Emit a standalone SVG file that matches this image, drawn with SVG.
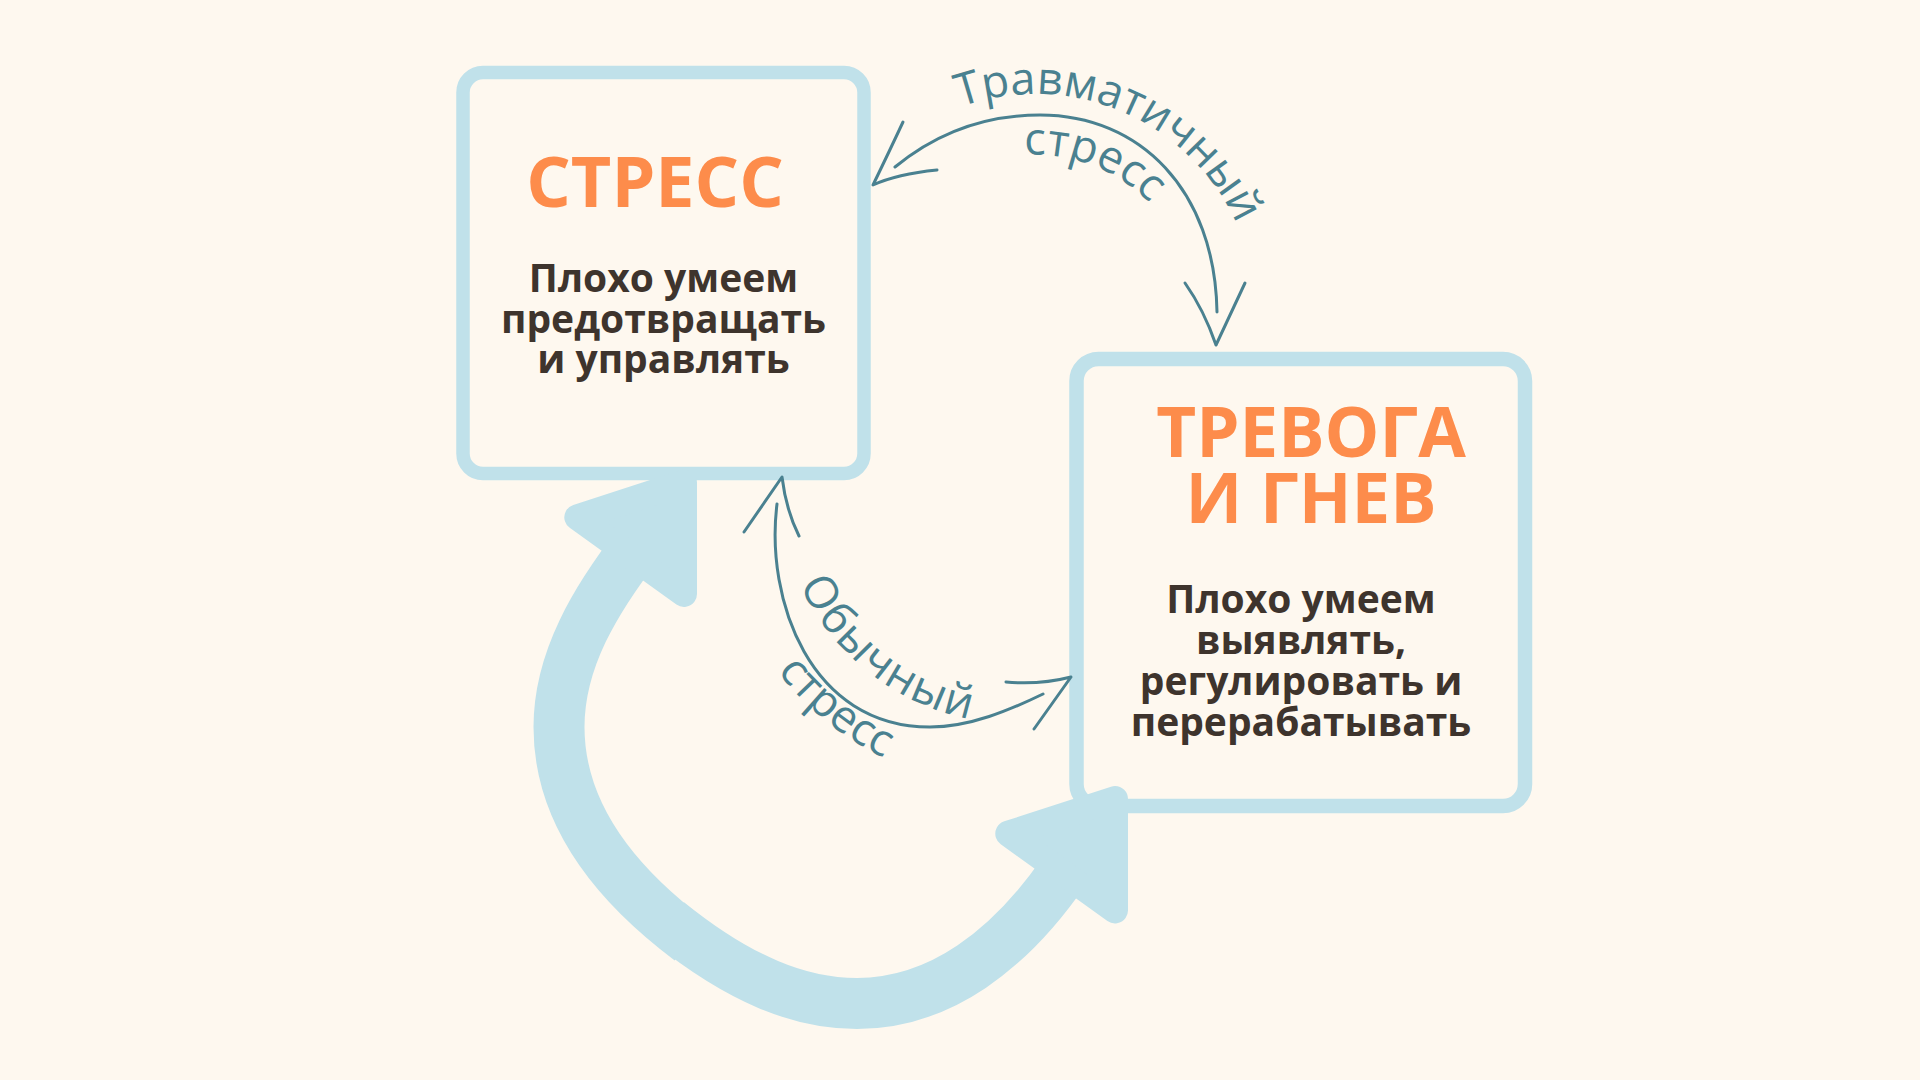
<svg xmlns="http://www.w3.org/2000/svg" width="1920" height="1080" viewBox="0 0 1920 1080">
<style>
.box{fill:#fef8ef;stroke:#c0e1ea;}
.title{font-family:"Open Sans","Noto Sans",sans-serif;font-weight:700;fill:#fd8c4b;text-anchor:middle;}
.body{font-family:"Open Sans","Noto Sans",sans-serif;font-weight:700;fill:#3e342d;text-anchor:middle;font-size:39px;}
.thin{fill:none;stroke:#4a8190;stroke-width:3;stroke-linecap:round;stroke-linejoin:round;}
.lbl{font-family:"Open Sans","Noto Sans",sans-serif;font-size:45px;font-weight:500;fill:#4a8190;}
.big{fill:none;stroke:#c0e1ea;stroke-width:51;}
.head{fill:#c0e1ea;stroke:#c0e1ea;stroke-width:26;stroke-linejoin:round;}
</style>
<defs>
<polygon id="bighead" points="684,482.6 577.3,517.3 684,594"/>
<path id="arcTrav" d="M 839.9 211.2 A 221 221 0 0 1 1245.2 383.3"/>
<path id="arcTravS" d="M 897.8 232.6 A 160 160 0 0 1 1192.1 345.5"/>
<path id="arcObych" d="M 807.2 366.2 A 241 241 0 0 0 1176.1 664.9"/>
<path id="arcObychS" d="M 750.4 334.7 A 306 306 0 0 0 1218.8 713.9"/>
</defs>
<rect width="1920" height="1080" fill="#fef8ef"/>

<g id="node-stress">
<rect class="box" x="463" y="72.5" width="401" height="401" rx="20" stroke-width="13.5"/>
<text class="title" x="655" y="207" font-size="70">СТРЕСС</text>
<text class="body" x="663.5" y="292">Плохо умеем</text>
<text class="body" x="663.5" y="332.5">предотвращать</text>
<text class="body" x="663.5" y="373">и управлять</text>
</g>

<g id="node-anxiety">
<rect class="box" x="1076.5" y="359" width="448.5" height="447" rx="22" stroke-width="14.5"/>
<text class="title" x="1311" y="457" font-size="69">ТРЕВОГА</text>
<text class="title" x="1311" y="523" font-size="69">И ГНЕВ</text>
<text class="body" x="1301" y="613">Плохо умеем</text>
<text class="body" x="1301" y="654">выявлять,</text>
<text class="body" x="1301" y="695">регулировать и</text>
<text class="body" x="1301" y="736">перерабатывать</text>
</g>

<g id="connectors">
<g id="cycle-arrow">
<path class="big" d="M 640 542 C 595 600, 559 660, 559 727 C 559 810, 610 880, 690 940"/>
<path class="big" d="M 668 922 C 740 980, 800 1003.5, 857 1003.5 C 940 1003.5, 1010 950, 1065 870"/>
<use href="#bighead" class="head"/>
<use href="#bighead" class="head" transform="translate(431 316.4)"/>
</g>
<g id="traumatic-stress">
<path class="thin" d="M 895 167 C 940 130, 990 115, 1040 115 C 1140 115, 1215 190, 1217 312"/>
<path class="thin" d="M 903 122 Q 889 152 873 185 Q 897 174 937 170"/>
<path class="thin" d="M 1185 283 Q 1204 310 1216 345 L 1245 283"/>
<text class="lbl"><textPath href="#arcTrav" startOffset="50%" text-anchor="middle">Травматичный</textPath></text>
<text class="lbl"><textPath href="#arcTravS" startOffset="50%" text-anchor="middle">стресс</textPath></text>
</g>
<g id="ordinary-stress">
<path class="thin" d="M 777 504 C 765 600, 810 727, 930 727 C 970 727, 1010 710, 1043 694"/>
<path class="thin" d="M 744 532 L 782 477 Q 786 510 799 536"/>
<path class="thin" d="M 1006 682 Q 1040 685 1071 677 L 1034 729"/>
<text class="lbl" letter-spacing="1.5"><textPath href="#arcObych" startOffset="50.5%" text-anchor="middle">Обычный</textPath></text>
<text class="lbl"><textPath href="#arcObychS" startOffset="50%" text-anchor="middle">стресс</textPath></text>
</g>
</g>
</svg>
